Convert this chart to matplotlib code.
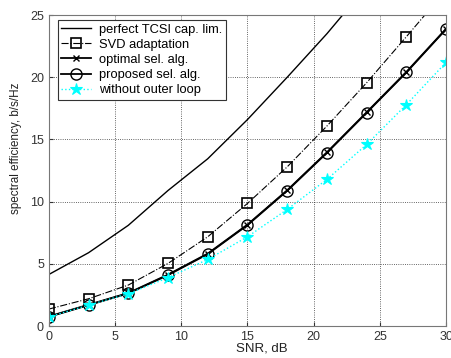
import numpy as np
import matplotlib
matplotlib.use("Agg")
import matplotlib.pyplot as plt

plt.rcParams['font.family'] = ['Liberation Sans', 'DejaVu Sans']

# SNR points (dB)
snr = [0, 3, 6, 9, 12, 15, 18, 21, 24, 27, 30]

# spectral efficiency curves, b/s/Hz
tcsi_cap = [4.15, 5.9, 8.1, 10.9, 13.45, 16.6, 20.0, 23.5, 27.3, 31.2, 35.2]
svd_adapt = [1.37, 2.2, 3.3, 5.04, 7.18, 9.86, 12.8, 16.08, 19.56, 23.26, 27.0]
optimal_sel = [0.78, 1.72, 2.66, 4.14, 5.83, 8.16, 10.92, 13.97, 17.19, 20.43, 23.9]
proposed_sel = [0.75, 1.69, 2.63, 4.1, 5.79, 8.12, 10.88, 13.93, 17.15, 20.39, 23.87]
no_outer = [0.75, 1.69, 2.6, 3.9, 5.36, 7.18, 9.38, 11.79, 14.6, 17.8, 21.2]

fig = plt.figure(figsize=(4.52, 3.58), dpi=100)
ax = fig.add_axes([0.108, 0.089, 0.879, 0.869])

ax.plot(snr, tcsi_cap, color='black', lw=1.0, label='perfect TCSI cap. lim.')
ax.plot(snr, svd_adapt, color='black', lw=0.8, ls='-.', marker='s', ms=7,
        mfc='none', mec='black', mew=1.2, label='SVD adaptation')
ax.plot(snr, optimal_sel, color='black', lw=1.3, marker='x', ms=5,
        mew=1.0, label='optimal sel. alg.')
ax.plot(snr, proposed_sel, color='black', lw=1.3, marker='o', ms=8,
        mfc='none', mec='black', mew=1.0, label='proposed sel. alg.')
ax.plot(snr, no_outer, color='cyan', lw=1.0, ls=':', marker='*', ms=9,
        mew=0.8, label='without outer loop')

ax.set_xlim(0, 30)
ax.set_ylim(0, 25)
ax.set_xticks(range(0, 31, 5))
ax.set_yticks(range(0, 26, 5))
ax.grid(True, ls=':', color='black', lw=0.6, alpha=0.8)
ax.tick_params(direction='in', labelsize=9, length=3, colors='#333333')
for s in ax.spines.values():
    s.set_color('#777777')
    s.set_linewidth(0.8)

ax.set_xlabel('SNR, dB', fontsize=9.5, color='#222222')
ax.xaxis.set_label_coords(0.537, -0.052)
ax.set_ylabel('spectral efficiency, b/s/Hz', fontsize=8.4, color='#222222')
ax.yaxis.set_label_coords(-0.068, 0.571)

leg = ax.legend(loc='upper left', bbox_to_anchor=(0.022, 0.985),
                borderaxespad=0, fontsize=9.3, frameon=True, fancybox=False,
                edgecolor='#333333', framealpha=1,
                handlelength=2.3, labelspacing=0.24, borderpad=0.3,
                handletextpad=0.6)
leg.get_frame().set_linewidth(0.8)

fig.savefig('out.png', dpi=100)
